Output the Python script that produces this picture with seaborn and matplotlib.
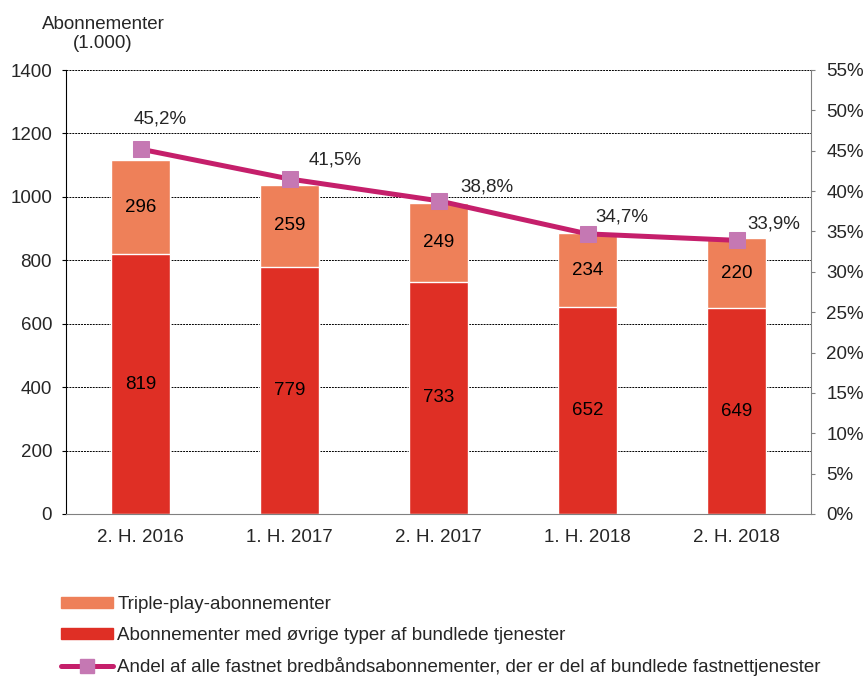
import numpy as np
import pandas as pd
import matplotlib
matplotlib.use('Agg')
import matplotlib.pyplot as plt
import seaborn as sns
from matplotlib.patches import Patch
from matplotlib.lines import Line2D
from matplotlib.ticker import FixedLocator

# data
periods = ['2. H. 2016', '1. H. 2017', '2. H. 2017', '1. H. 2018', '2. H. 2018']
triple_play = [296, 259, 249, 234, 220]
other_bundles = [819, 779, 733, 652, 649]
share_pct = [45.2, 41.5, 38.8, 34.7, 33.9]

# where each percentage label sits relative to its marker (points)
label_offsets = [(14, 22), (33, 14), (35, 10), (25, 12), (27, 12)]

TRIPLE_COLOR = '#EE8059'
OTHER_COLOR = '#DF2F25'
LINE_COLOR = '#C51F6B'
MARKER_COLOR = '#C578B3'
FS = 13.5

sns.set_style('white')
plt.rcParams['font.family'] = ['Liberation Sans', 'DejaVu Sans']
plt.rcParams['font.size'] = FS

df = pd.DataFrame({
    'period': periods,
    'triple': triple_play,
    'other': other_bundles,
    'share': share_pct,
})
df['total'] = df['triple'] + df['other']
df['x'] = np.arange(len(df))

fig = plt.figure(figsize=(8.66, 6.77), dpi=100)
ax = fig.add_axes([66 / 866, 1 - 514 / 677, 745 / 866, 444 / 677])

# stacked bars: draw totals first, then the lower segment on top
sns.barplot(data=df, x='period', y='total', color=TRIPLE_COLOR, width=0.4,
            saturation=1, ax=ax, zorder=2)
sns.barplot(data=df, x='period', y='other', color=OTHER_COLOR, width=0.4,
            saturation=1, ax=ax, zorder=2)

for i, row in df.iterrows():
    ax.text(i, row['other'] / 2, f"{row['other']}", ha='center', va='center',
            fontsize=FS, color='black', zorder=3)
    ax.text(i, row['other'] + row['triple'] / 2, f"{row['triple']}",
            ha='center', va='center', fontsize=FS, color='black', zorder=3)

ax.set_xlim(-0.5, 4.5)
ax.set_ylim(0, 1400)
ax.set_yticks(range(0, 1401, 200))
ax.yaxis.grid(True, linestyle=(0, (2, 1)), color='black', linewidth=0.7)
ax.set_axisbelow(True)
ax.set_xlabel('')
ax.set_ylabel('')
ax.tick_params(axis='x', length=0, pad=11)
ax.xaxis.set_minor_locator(FixedLocator([-0.5, 0.5, 1.5, 2.5, 3.5, 4.5]))
ax.tick_params(axis='x', which='minor', length=4.5, color='#808080', direction='out')
ax.tick_params(axis='y', length=3, direction='out', color='black', pad=7)
ax.spines['left'].set_color('black')
ax.spines['bottom'].set_color('#808080')
ax.spines['top'].set_visible(False)
ax.spines['right'].set_visible(False)

# share line on the right axis
ax2 = ax.twinx()
sns.lineplot(data=df, x='x', y='share', color=LINE_COLOR, linewidth=3.6,
             marker='s', markersize=11, markerfacecolor=MARKER_COLOR,
             markeredgecolor=MARKER_COLOR, ax=ax2, zorder=4)
for (i, row), off in zip(df.iterrows(), label_offsets):
    ax2.annotate(f"{row['share']:.1f}%".replace('.', ','), (row['x'], row['share']),
                 xytext=off, textcoords='offset points', ha='center',
                 va='center', fontsize=FS)
ax2.set_ylim(0, 55)
ax2.set_yticks(range(0, 56, 5))
ax2.set_yticklabels([f'{v}%' for v in range(0, 56, 5)])
ax2.set_xlim(-0.5, 4.5)
ax2.set_xlabel('')
ax2.set_ylabel('')
ax2.tick_params(axis='y', length=3, direction='out', color='#808080', pad=8)
for s in ['top', 'left', 'bottom']:
    ax2.spines[s].set_visible(False)
ax2.spines['right'].set_color('#808080')

fig.text(103 / 866, 1 - 34 / 677, 'Abonnementer\n(1.000)', ha='center',
         va='center', fontsize=FS, linespacing=1.15)

handles = [
    Patch(color=TRIPLE_COLOR, label='Triple-play-abonnementer'),
    Patch(color=OTHER_COLOR, label='Abonnementer med øvrige typer af bundlede tjenester'),
    Line2D([], [], color=LINE_COLOR, linewidth=3.6, marker='s', markersize=10,
           markerfacecolor=MARKER_COLOR, markeredgecolor=MARKER_COLOR,
           label='Andel af alle fastnet bredbåndsabonnementer, der er del af bundlede fastnettjenester'),
]
fig.legend(handles=handles, loc='lower left', bbox_to_anchor=(44 / 866, -0.024),
           frameon=False, fontsize=FS, handlelength=2.8, handletextpad=0.2,
           labelspacing=0.72, handleheight=0.55)

fig.savefig('out.png', dpi=100)
